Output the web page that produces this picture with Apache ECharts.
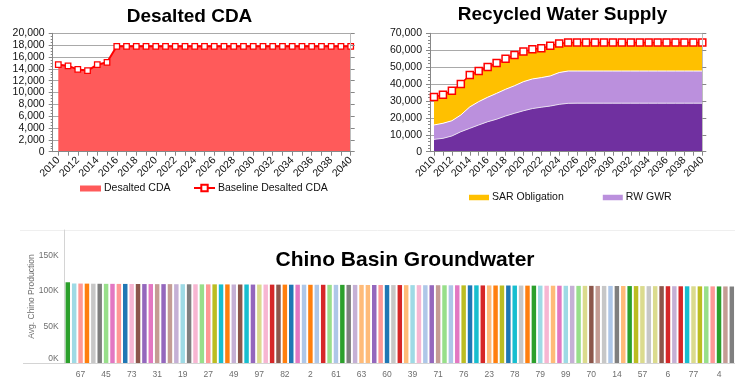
<!DOCTYPE html>
<html>
<head>
<meta charset="utf-8">
<script src="https://cdn.jsdelivr.net/npm/echarts@6/dist/echarts.min.js"></script>
<style>
  html, body { margin: 0; padding: 0; background: #ffffff; }
  #chart { width: 735px; height: 381px; }
</style>
</head>
<body>
<div id="chart"></div>
<script>
// ---- Data -------------------------------------------------------------
const years = [];
for (let y = 2010; y <= 2040; y++) years.push(String(y));

// Desalted CDA (AFY)
const desaltedCDA = [14700, 14500, 13900, 13700, 14700, 15100, 17800, 17800, 17800, 17800,
  17800, 17800, 17800, 17800, 17800, 17800, 17800, 17800, 17800, 17800,
  17800, 17800, 17800, 17800, 17800, 17800, 17800, 17800, 17800, 17800, 17800];
const baselineDesaltedCDA = [14700, 14500, 13900, 13700, 14700, 15100, 17800, 17800, 17800, 17800,
  17800, 17800, 17800, 17800, 17800, 17800, 17800, 17800, 17800, 17800,
  17800, 17800, 17800, 17800, 17800, 17800, 17800, 17800, 17800, 17800, 17800];

// Recycled water supply components (AFY)
const rwDirectUse = [7300, 7900, 9300, 11800, 13800, 15800, 17700, 19200, 21100, 22700,
  24200, 25500, 26300, 27000, 28000, 28600, 28700, 28700, 28700, 28700,
  28700, 28700, 28700, 28700, 28700, 28700, 28700, 28700, 28700, 28700, 28700];
const rwGWR = [8500, 8900, 9000, 9900, 12700, 13800, 14500, 15300, 15800, 16300,
  17200, 17500, 17500, 17800, 18800, 19100, 19000, 19000, 19000, 19000,
  19000, 19000, 19000, 19000, 19000, 19000, 19000, 19000, 19000, 19000, 19000];
const sarObligation = [16500, 16900, 17700, 18300, 18800, 18100, 17900, 17900, 18100, 18200,
  17900, 17500, 17300, 17900, 17200, 16800, 16800, 16800, 16800, 16800,
  16800, 16800, 16800, 16800, 16800, 16800, 16800, 16800, 16800, 16800, 16800];
const totalRecycledSupply = [32300, 33700, 36000, 40000, 45300, 47700, 50100, 52400, 55000, 57200,
  59300, 60500, 61100, 62700, 64000, 64500, 64500, 64500, 64500, 64500,
  64500, 64500, 64500, 64500, 64500, 64500, 64500, 64500, 64500, 64500, 64500];

// Chino Basin groundwater: average production per scenario, sorted high to low
const wellTickLabels = ['67', '45', '73', '31', '19', '27', '49', '97', '82', '2', '61', '63', '60',
  '39', '71', '76', '23', '78', '79', '99', '70', '14', '57', '6', '77', '4'];
const avgChinoProduction = [
  112300, 110600, 110500, 110400, 110300, 110200, 110100, 110100, 110000, 110000,
  109900, 109900, 109800, 109800, 109700, 109700, 109700, 109600, 109600, 109500,
  109500, 109400, 109400, 109400, 109300, 109300, 109200, 109200, 109200, 109100,
  109100, 109100, 109000, 109000, 109000, 108900, 108900, 108900, 108800, 108800,
  108800, 108700, 108700, 108700, 108600, 108600, 108600, 108500, 108500, 108500,
  108400, 108400, 108400, 108300, 108300, 108300, 108200, 108200, 108200, 108100,
  108100, 108100, 108000, 108000, 108000, 107900, 107900, 107800, 107800, 107800,
  107700, 107700, 107600, 107600, 107600, 107500, 107500, 107500, 107400, 107400,
  107300, 107300, 107300, 107200, 107200, 107200, 107100, 107100, 107000, 107000,
  107000, 106900, 106900, 106900, 106800, 106800, 106700, 106700, 106700, 106600,
  106600, 106600, 106500, 106500, 106400];

// ---- Styles -----------------------------------------------------------
const FONT = '"Liberation Sans", Arial, Helvetica, sans-serif';
const AXIS_GRAY = '#878787';
const GRID_GRAY = '#a9a9a9';

// category20 colours, one per scenario bar
const C20 = {
  blue: '#1f77b4', lblue: '#aec7e8', orange: '#ff7f0e', lorange: '#ffbb78',
  green: '#2ca02c', lgreen: '#98df8a', red: '#d62728', salmon: '#ff9896',
  purple: '#9467bd', lavender: '#c5b0d5', brown: '#8c564b', tan: '#c49c94',
  magenta: '#e377c2', lpink: '#f7b6d2', gray: '#7f7f7f', lgray: '#c7c7c7',
  olive: '#bcbd22', lolive: '#dbdb8d', cyan: '#17becf', lcyan: '#9edae5'
};
const barColorKeys = [
  'green', 'lcyan', 'salmon', 'orange', 'lgray', 'gray', 'lgreen', 'magenta', 'salmon', 'blue',
  'lpink', 'brown', 'purple', 'magenta', 'tan', 'purple', 'tan', 'lavender', 'lcyan', 'gray',
  'lpink', 'lgreen', 'salmon', 'olive', 'cyan', 'orange', 'lavender', 'brown', 'cyan', 'purple',
  'lolive', 'lpink', 'red', 'brown', 'orange', 'blue', 'magenta', 'lblue', 'orange', 'lblue',
  'red', 'lgreen', 'lblue', 'green', 'gray', 'lavender', 'lorange', 'lorange', 'purple', 'salmon',
  'blue', 'lgray', 'red', 'lorange', 'lcyan', 'lpink', 'lblue', 'purple', 'tan', 'lgreen',
  'lblue', 'magenta', 'olive', 'blue', 'cyan', 'red', 'lorange', 'orange', 'olive', 'blue',
  'cyan', 'lgray', 'orange', 'green', 'lcyan', 'lpink', 'lorange', 'magenta', 'lcyan', 'lavender',
  'lgreen', 'lolive', 'brown', 'tan', 'lgray', 'lblue', 'gray', 'lorange', 'green', 'olive',
  'lolive', 'lgray', 'lolive', 'brown', 'red', 'lavender', 'red', 'cyan', 'lolive', 'olive',
  'lgreen', 'salmon', 'green', 'tan', 'gray'];

// tick labels sit on every fourth bar, starting with the third one
const wellCategories = avgChinoProduction.map((_, i) =>
  (i % 4 === 2 && wellTickLabels[(i - 2) / 4] !== undefined) ? wellTickLabels[(i - 2) / 4] : '');

const thousands = v => v.toLocaleString('en-US');

function frameX(gridIndex) {
  return {
    gridIndex, type: 'value', min: 0, max: 1, z: 5,
    axisLine: { show: true, lineStyle: { color: AXIS_GRAY, width: 1 } },
    axisTick: { show: false }, axisLabel: { show: false }, splitLine: { show: false }
  };
}
function yearAxis(gridIndex) {
  return {
    gridIndex, type: 'category', data: years, boundaryGap: false,
    axisLine: { show: false },
    axisTick: { show: true, interval: 0, length: 4, lineStyle: { color: AXIS_GRAY } },
    axisLabel: { interval: 1, rotate: 45, margin: 7, fontSize: 10.5, color: '#111', fontFamily: FONT }
  };
}
function leftValueAxis(gridIndex, max, interval, minorSplit) {
  return {
    gridIndex, type: 'value', min: 0, max, interval,
    axisLine: { show: true, lineStyle: { color: AXIS_GRAY } },
    axisTick: { show: true, length: 4, lineStyle: { color: AXIS_GRAY } },
    minorTick: { show: true, splitNumber: minorSplit, length: 2, lineStyle: { color: AXIS_GRAY } },
    axisLabel: { formatter: thousands, fontSize: 10.5, color: '#111', margin: 8, fontFamily: FONT },
    splitLine: { show: true, lineStyle: { color: GRID_GRAY, width: 1 } }
  };
}
function hiddenValueAxis(gridIndex, max) {
  return { gridIndex, type: 'value', min: 0, max, show: false };
}
function rightTickAxis(gridIndex, max, interval) {
  return {
    gridIndex, type: 'value', min: 0, max, interval, position: 'right', z: 5,
    axisLine: { show: true, lineStyle: { color: '#bdbdbd' } },
    axisTick: { show: true, length: 4, lineStyle: { color: AXIS_GRAY } },
    axisLabel: { show: false }, splitLine: { show: false }
  };
}

const option = {
  animation: false,
  backgroundColor: '#ffffff',
  textStyle: { fontFamily: FONT },
  grid: [
    { left: 52.7, top: 33.3, width: 298.3, height: 118.4 },   // CDA frame
    { left: 58.3, top: 33.3, width: 292.4, height: 118.4 },   // CDA plot
    { left: 430, top: 33.3, width: 272.5, height: 118.4 },    // recycled frame
    { left: 434, top: 33.3, width: 268.3, height: 118.4 },    // recycled plot
    { left: 64.6, top: 230, width: 672, height: 133 }         // groundwater bars
  ],
  xAxis: [
    frameX(0),
    yearAxis(1),
    frameX(2),
    yearAxis(3),
    {
      gridIndex: 4, type: 'category', data: wellCategories,
      axisLine: { show: true, lineStyle: { color: '#d4d4d4' } },
      axisTick: { show: false },
      axisLabel: { interval: 0, fontSize: 8.5, color: '#6e6e6e', margin: 7, fontFamily: FONT }
    }
  ],
  yAxis: [
    leftValueAxis(0, 20000, 2000, 4),
    hiddenValueAxis(1, 20000),
    rightTickAxis(1, 20000, 2000),
    leftValueAxis(2, 70000, 10000, 5),
    hiddenValueAxis(3, 70000),
    rightTickAxis(3, 70000, 10000),
    {
      gridIndex: 4, type: 'value', min: 0, max: 185000, interval: 50000,
      name: 'Avg. Chino Production', nameLocation: 'middle', nameGap: 28, nameMoveOverlap: false,
      nameTextStyle: { fontSize: 8.5, color: '#6e6e6e', fontFamily: FONT },
      axisLine: { show: true, lineStyle: { color: '#d4d4d4' } },
      axisTick: { show: false },
      axisLabel: {
        showMaxLabel: false, fontSize: 8.5, color: '#6e6e6e', margin: 6, fontFamily: FONT,
        verticalAlignMinLabel: 'bottom',
        formatter: v => (v / 1000) + 'K'
      },
      splitLine: { show: false }
    }
  ],
  legend: [
    {
      data: [{ name: 'Desalted CDA', icon: 'rect' }],
      left: 80, top: 183, padding: 0, itemWidth: 21, itemHeight: 6,
      itemStyle: { borderWidth: 0 },
      textStyle: { fontSize: 10.5, color: '#111', fontFamily: FONT, padding: [0, 0, 0, -2] }
    },
    {
      data: ['Baseline Desalted CDA'],
      left: 193, top: 182.5, padding: 0, itemWidth: 21, itemHeight: 8,
      textStyle: { fontSize: 10.5, color: '#111', fontFamily: FONT, padding: [0, 0, 0, -2] }
    },
    {
      data: [{ name: 'SAR Obligation', icon: 'rect' }, { name: 'RW GWR', icon: 'rect' }],
      left: 469, top: 192, padding: 0, itemWidth: 20, itemHeight: 5.5, itemGap: 39,
      itemStyle: { borderWidth: 0 },
      textStyle: { fontSize: 10.5, color: '#111', fontFamily: FONT, padding: [0, 0, 0, -2] }
    }
  ],
  series: [
    {
      name: 'Desalted CDA', type: 'line', xAxisIndex: 1, yAxisIndex: 1,
      data: desaltedCDA, color: '#ff5a5a', symbol: 'none',
      lineStyle: { width: 0 }, areaStyle: { color: '#ff5a5a', opacity: 1 }
    },
    {
      name: 'Baseline Desalted CDA', type: 'line', xAxisIndex: 1, yAxisIndex: 1,
      data: baselineDesaltedCDA, z: 4,
      symbol: 'rect', symbolSize: 5.5, showAllSymbol: true,
      lineStyle: { color: '#ff0000', width: 2 },
      itemStyle: { color: '#ffffff', borderColor: '#ff0000', borderWidth: 1.3 }
    },
    {
      name: 'RW Direct Use', type: 'line', stack: 'rw', xAxisIndex: 3, yAxisIndex: 4,
      data: rwDirectUse, color: '#7030a0', symbol: 'none',
      lineStyle: { color: '#e6dcef', width: 1 }, areaStyle: { color: '#7030a0', opacity: 1 }
    },
    {
      name: 'RW GWR', type: 'line', stack: 'rw', xAxisIndex: 3, yAxisIndex: 4,
      data: rwGWR, color: '#bb90dd', symbol: 'none',
      lineStyle: { color: '#ffffff', width: 1 }, areaStyle: { color: '#bb90dd', opacity: 1 }
    },
    {
      name: 'SAR Obligation', type: 'line', stack: 'rw', xAxisIndex: 3, yAxisIndex: 4,
      data: sarObligation, color: '#ffc000', symbol: 'none',
      lineStyle: { width: 0 }, areaStyle: { color: '#ffc000', opacity: 1 }
    },
    {
      name: 'Total Recycled Water', type: 'line', xAxisIndex: 3, yAxisIndex: 4,
      data: totalRecycledSupply, z: 4,
      symbol: 'rect', symbolSize: 7, showAllSymbol: true,
      lineStyle: { color: '#ff0000', width: 1.5 },
      itemStyle: { color: '#ffffff', borderColor: '#ff0000', borderWidth: 1.5 }
    },
    {
      name: 'Avg. Chino Production', type: 'bar', xAxisIndex: 4, yAxisIndex: 6,
      barCategoryGap: '30%',
      data: avgChinoProduction.map((v, i) => ({ value: v, itemStyle: { color: C20[barColorKeys[i]] } }))
    }
  ],
  graphic: [
    { type: 'text', x: 189.5, y: 16.7, style: { text: 'Desalted CDA', font: 'bold 19px ' + FONT, fill: '#000', align: 'center', verticalAlign: 'middle' } },
    { type: 'text', x: 562.5, y: 14.8, style: { text: 'Recycled Water Supply', font: 'bold 19px ' + FONT, fill: '#000', align: 'center', verticalAlign: 'middle' } },
    { type: 'text', x: 405, y: 260, style: { text: 'Chino Basin Groundwater', font: 'bold 21px ' + FONT, fill: '#000', align: 'center', verticalAlign: 'middle' } },
    { type: 'line', shape: { x1: 20, y1: 230.5, x2: 735, y2: 230.5 }, style: { stroke: '#efefef', lineWidth: 1 } },
    { type: 'line', shape: { x1: 23, y1: 363.5, x2: 65, y2: 363.5 }, style: { stroke: '#d4d4d4', lineWidth: 1 } }
  ]
};

const chart = echarts.init(document.getElementById('chart'), null, { renderer: 'canvas' });
chart.setOption(option);
</script>
</body>
</html>
